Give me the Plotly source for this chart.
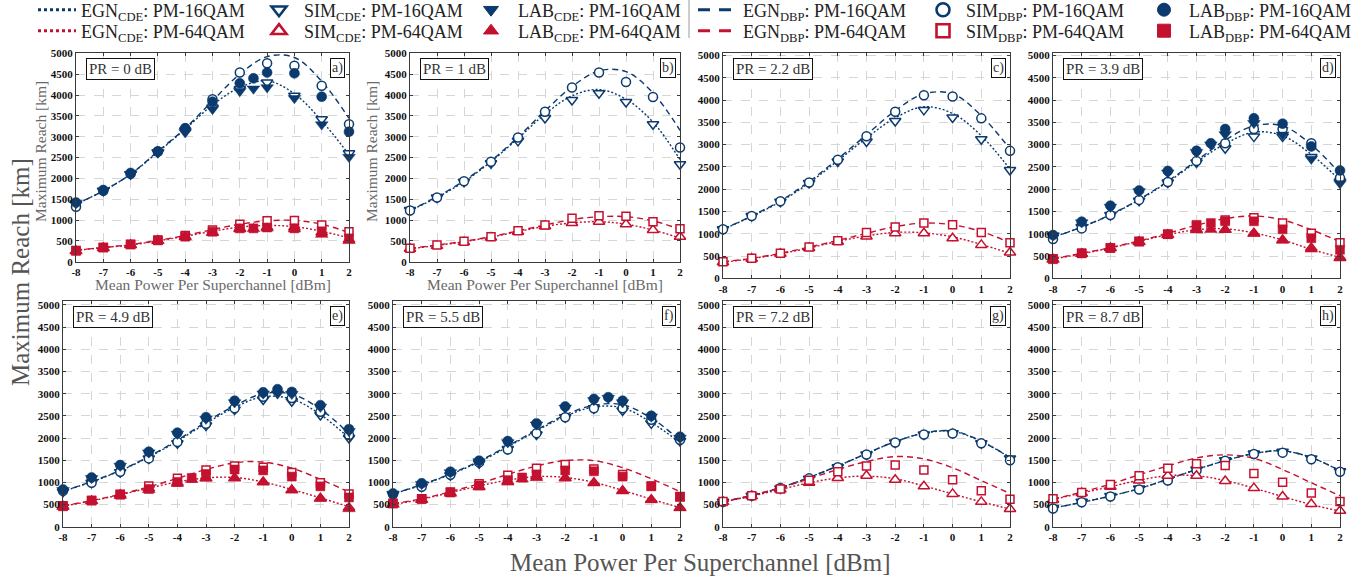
import plotly.graph_objects as go

# ---------------------------------------------------------------- data
POWER = [-8, -7, -6, -5, -4, -3, -2, -1, 0, 1, 2]          # launch power grid [dBm]
PANEL_TAGS = ["a)", "b)", "c)", "d)", "e)", "f)", "g)", "h)"]
PR_DB = ["0", "1", "2.2", "3.9", "4.9", "5.5", "7.2", "8.7"]   # power ratio per panel

# EGN model, CDE only (one row per panel, sampled on POWER)
EGN_CDE_16 = [
    [1380, 1700, 2100, 2630, 3180, 3760, 4180, 4340, 4030, 3380, 2570],
    [1230, 1540, 1920, 2400, 2960, 3540, 3980, 4130, 3900, 3350, 2450],
    [1100, 1390, 1720, 2140, 2640, 3150, 3600, 3850, 3700, 3200, 2450],
    [920, 1150, 1420, 1760, 2160, 2610, 3020, 3280, 3200, 2780, 2200],
    [800, 1010, 1260, 1570, 1930, 2330, 2690, 2930, 2880, 2530, 2000],
    [740, 940, 1180, 1460, 1800, 2160, 2490, 2700, 2680, 2350, 1900],
    [560, 700, 880, 1110, 1370, 1650, 1920, 2110, 2150, 1920, 1560],
    [420, 550, 690, 860, 1070, 1290, 1490, 1650, 1710, 1560, 1260],
]
EGN_CDE_64 = [
    [270, 340, 400, 500, 610, 730, 830, 870, 840, 730, 570],
    [310, 390, 480, 590, 720, 850, 930, 960, 900, 760, 570],
    [360, 440, 550, 680, 830, 950, 1030, 1020, 930, 760, 560],
    [430, 550, 680, 830, 980, 1090, 1110, 1020, 860, 650, 470],
    [460, 580, 720, 870, 1010, 1100, 1110, 1010, 840, 650, 450],
    [500, 620, 770, 920, 1050, 1130, 1110, 1000, 820, 620, 430],
    [560, 690, 840, 990, 1100, 1140, 1080, 920, 740, 560, 400],
    [610, 760, 900, 1050, 1150, 1150, 1040, 870, 680, 500, 350],
]
# EGN model with digital back-propagation
EGN_DBP_16 = [
    [1380, 1700, 2100, 2650, 3200, 3860, 4500, 4920, 4900, 4330, 3440],
    [1230, 1560, 1940, 2420, 2990, 3620, 4200, 4580, 4560, 4050, 3150],
    [1100, 1400, 1740, 2170, 2680, 3220, 3760, 4140, 4140, 3650, 2900],
    [920, 1150, 1430, 1770, 2180, 2640, 3100, 3420, 3420, 3000, 2350],
    [800, 1020, 1270, 1580, 1950, 2360, 2730, 3000, 2990, 2650, 2100],
    [740, 950, 1190, 1480, 1820, 2180, 2520, 2740, 2750, 2450, 1950],
    [560, 700, 880, 1110, 1370, 1650, 1920, 2110, 2160, 1930, 1560],
    [420, 550, 690, 860, 1070, 1290, 1490, 1650, 1710, 1560, 1260],
]
EGN_DBP_64 = [
    [280, 340, 410, 510, 630, 770, 900, 980, 990, 900, 700],
    [320, 400, 490, 600, 740, 880, 1010, 1080, 1080, 980, 780],
    [370, 450, 560, 700, 850, 1010, 1160, 1240, 1200, 1050, 800],
    [440, 560, 690, 840, 1010, 1190, 1340, 1400, 1310, 1090, 820],
    [470, 590, 730, 900, 1090, 1290, 1440, 1460, 1320, 1070, 780],
    [520, 630, 790, 970, 1180, 1370, 1490, 1490, 1330, 1080, 790],
    [570, 710, 880, 1080, 1290, 1470, 1580, 1530, 1330, 1040, 750],
    [620, 780, 960, 1170, 1370, 1550, 1620, 1540, 1290, 990, 700],
]

# split-step simulations, sampled on POWER
SIM_CDE_16 = [
    [1380, 1700, 2100, 2620, 3150, 3700, 4140, 4300, 3980, 3420, 2600],
    [1240, 1540, 1920, 2360, 2900, 3450, 3880, 4040, 3830, 3300, 2340],
    [1100, 1400, 1720, 2140, 2620, 3070, 3530, 3780, 3610, 3120, 2430],
    [950, 1150, 1420, 1740, 2150, 2600, 2920, 3180, 3180, 2720, 2170],
    [790, 990, 1230, 1540, 1880, 2280, 2640, 2870, 2830, 2520, 2000],
    [720, 900, 1160, 1430, 1750, 2080, 2470, 2670, 2620, 2330, 1930],
    [560, 700, 860, 1080, 1340, 1630, 1900, 2080, 2110, 1880, 1540],
    [420, 560, 690, 860, 1060, 1290, 1500, 1650, 1690, 1540, 1250],
]
SIM_DBP_16 = [
    [1320, 1700, 2110, 2650, 3200, 3900, 4540, 4760, 4700, 4220, 3300],
    [1230, 1540, 1930, 2400, 2980, 3600, 4180, 4540, 4310, 3950, 2740],
    [1100, 1400, 1730, 2150, 2660, 3190, 3740, 4110, 4080, 3590, 2860],
    [880, 1120, 1420, 1760, 2160, 2630, 3030, 3350, 3350, 3030, 2250],
    [810, 990, 1240, 1540, 1910, 2320, 2670, 2930, 2900, 2590, 2070],
    [730, 900, 1170, 1450, 1740, 2110, 2470, 2670, 2670, 2410, 1960],
    [560, 700, 870, 1090, 1340, 1630, 1900, 2080, 2100, 1880, 1500],
    [410, 550, 680, 840, 1040, 1270, 1490, 1640, 1670, 1520, 1240],
]
SIM_CDE_64 = [
    [260, 330, 400, 500, 600, 700, 800, 830, 820, 700, 530],
    [310, 380, 470, 580, 720, 850, 930, 960, 900, 760, 600],
    [360, 440, 550, 680, 820, 940, 1010, 1010, 900, 750, 580],
    [430, 550, 680, 820, 980, 1090, 1090, 1010, 860, 680, 470],
    [460, 580, 720, 860, 990, 1090, 1100, 1010, 830, 640, 430],
    [510, 610, 760, 900, 1020, 1130, 1100, 990, 810, 610, 430],
    [560, 690, 840, 990, 1100, 1150, 1060, 910, 740, 560, 400],
    [610, 760, 900, 1040, 1150, 1150, 1030, 870, 680, 510, 360],
]
SIM_DBP_64 = [
    [270, 340, 420, 520, 630, 760, 900, 980, 990, 880, 720],
    [320, 400, 490, 600, 740, 880, 1040, 1100, 1090, 960, 790],
    [370, 450, 560, 700, 840, 1030, 1150, 1240, 1200, 1030, 800],
    [440, 560, 680, 830, 990, 1180, 1310, 1360, 1240, 1010, 800],
    [470, 590, 730, 920, 1090, 1280, 1370, 1340, 1220, 990, 740],
    [530, 630, 780, 970, 1160, 1320, 1400, 1300, 1180, 920, 680],
    [570, 700, 850, 1050, 1240, 1370, 1390, 1280, 1060, 810, 620],
    [630, 770, 950, 1150, 1320, 1420, 1380, 1200, 1000, 760, 570],
]

# laboratory measurements (only panels a, d, e, f)
LAB_PANELS = [0, 3, 4, 5]
LAB_POWER_16 = [
    [-8, -7, -6, -5, -4, -3, -2, -1.5, -1, 0, 1, 2],
    [-8, -7, -6, -5, -4, -3, -2.5, -2, -1, 0, 1, 2],
    [-8, -7, -6, -5, -4, -3, -2, -1, -0.5, 0, 1, 2],
    [-8, -7, -6, -5, -4, -3, -2, -1, -0.5, 0, 1, 2],
]
LAB_POWER_64 = [
    [-8, -7, -6, -5, -4, -3, -2, -1.5, -1, 0, 1, 2],
    [-8, -7, -6, -5, -4, -3, -2.5, -2, -1, 0, 1, 2],
    [-8, -7, -6, -5, -4, -3.5, -3, -2, -1, 0, 1, 2],
    [-8, -7, -6, -5, -4, -3.5, -3, -2, -1, 0, 1, 2],
]
LAB_CDE_16 = [
    [1400, 1700, 2100, 2620, 3100, 3660, 4090, 4150, 4180, 3920, 3290, 2510],
    [960, 1250, 1600, 1950, 2370, 2830, 3000, 3230, 3480, 3220, 2680, 2130],
    [820, 1090, 1370, 1670, 2090, 2430, 2800, 3000, 3000, 2990, 2700, 2150],
    [740, 960, 1220, 1470, 1900, 2300, 2680, 2850, 2900, 2800, 2480, 2000],
]
LAB_DBP_16 = [
    [1420, 1720, 2130, 2640, 3200, 3840, 4280, 4400, 4540, 4520, 3960, 3120],
    [970, 1270, 1630, 1970, 2410, 2860, 3030, 3350, 3590, 3470, 2960, 2420],
    [840, 1110, 1390, 1690, 2120, 2470, 2840, 3030, 3100, 3040, 2740, 2200],
    [750, 980, 1240, 1490, 1930, 2330, 2710, 2880, 2920, 2840, 2500, 2030],
]
LAB_CDE_64 = [
    [250, 330, 400, 500, 590, 690, 780, 790, 800, 780, 650, 500],
    [420, 550, 680, 810, 970, 1080, 1090, 1090, 1000, 850, 650, 450],
    [450, 580, 700, 830, 970, 1060, 1090, 1090, 1000, 820, 630, 400],
    [500, 610, 750, 890, 1000, 1070, 1100, 1090, 980, 800, 600, 420],
]
LAB_DBP_64 = [
    [260, 340, 410, 510, 600, 720, 800, 800, 820, 800, 730, 560],
    [430, 560, 680, 820, 990, 1200, 1240, 1280, 1280, 1100, 900, 640],
    [460, 590, 720, 850, 1010, 1100, 1190, 1290, 1270, 1130, 910, 660],
    [520, 620, 770, 930, 1050, 1110, 1180, 1270, 1250, 1130, 910, 670],
]

# ---------------------------------------------------------------- style
W, H = 1367, 580
BLUE = "#0b3a6e"
RED = "#c3112f"
SERIF = "Liberation Serif"
GREY_TXT = "#555555"

# plot frames in pixels: left, right, top, bottom
FRAMES = [
    (76, 349, 52.7, 261.7), (410, 680, 52.7, 261.7),
    (723, 1010, 53.3, 278.3), (1053, 1340, 53.3, 278.3),
    (63, 349, 301, 526.7), (393, 680, 301, 526.7),
    (723, 1010, 301, 526.7), (1053, 1340, 301, 526.7),
]
Y_TOP = [5015, 5015, 5050, 5050, 5090, 5090, 5090, 5090]

DOT = "2px,2px"
DASH = "6px,4px"
MS = 9


def px_x(v):
    return v / W


def px_y(v):
    return 1 - v / H


fig = go.Figure()


def add_panel_traces(i):
    sfx = "" if i == 0 else str(i + 1)
    xa, ya = "x" + sfx, "y" + sfx
    for color, cde, dbp, sim_c, sim_d, sym_c, sym_d in (
        (BLUE, EGN_CDE_16, EGN_DBP_16, SIM_CDE_16, SIM_DBP_16, "triangle-down", "circle"),
        (RED, EGN_CDE_64, EGN_DBP_64, SIM_CDE_64, SIM_DBP_64, "triangle-up", "square"),
    ):
        fig.add_trace(go.Scatter(
            x=POWER, y=cde[i], xaxis=xa, yaxis=ya, mode="lines", showlegend=False,
            line=dict(color=color, width=1.4, dash=DOT, shape="spline"), hoverinfo="skip"))
        fig.add_trace(go.Scatter(
            x=POWER, y=dbp[i], xaxis=xa, yaxis=ya, mode="lines", showlegend=False,
            line=dict(color=color, width=1.4, dash=DASH, shape="spline"), hoverinfo="skip"))
        fig.add_trace(go.Scatter(
            x=POWER, y=sim_c[i], xaxis=xa, yaxis=ya, mode="markers", showlegend=False,
            cliponaxis=False,
            marker=dict(symbol=sym_c, size=MS + 1, color="white", line=dict(color=color, width=1.5))))
        fig.add_trace(go.Scatter(
            x=POWER, y=sim_d[i], xaxis=xa, yaxis=ya, mode="markers", showlegend=False,
            cliponaxis=False,
            marker=dict(symbol=sym_d, size=MS if sym_d == "circle" else MS - 1, color="white",
                        line=dict(color=color, width=1.5))))
    if i in LAB_PANELS:
        k = LAB_PANELS.index(i)
        for color, pw, cde, dbp, sym_c, sym_d in (
            (BLUE, LAB_POWER_16, LAB_CDE_16, LAB_DBP_16, "triangle-down", "circle"),
            (RED, LAB_POWER_64, LAB_CDE_64, LAB_DBP_64, "triangle-up", "square"),
        ):
            fig.add_trace(go.Scatter(
                x=pw[k], y=cde[k], xaxis=xa, yaxis=ya, mode="markers", showlegend=False,
                cliponaxis=False,
                marker=dict(symbol=sym_c, size=MS + 2, color=color, line=dict(color=color, width=0.5))))
            fig.add_trace(go.Scatter(
                x=pw[k], y=dbp[k], xaxis=xa, yaxis=ya, mode="markers", showlegend=False,
                cliponaxis=False,
                marker=dict(symbol=sym_d, size=MS + 1 if sym_d == "circle" else MS, color=color,
                            line=dict(color=color, width=0.5))))


for i in range(8):
    add_panel_traces(i)

# ---------------------------------------------------------------- axes
axis_common = dict(
    showline=True, mirror="ticks", linecolor="#3a3a3a", linewidth=1,
    ticks="inside", ticklen=3, tickcolor="#3a3a3a",
    showgrid=True, gridcolor="#d6d6d6", griddash="dash", gridwidth=1,
    zeroline=False,
    tickfont=dict(family=SERIF, size=11, color="#111111", weight="bold"),
)
for i, (l, r, t, b) in enumerate(FRAMES):
    sfx = "" if i == 0 else str(i + 1)
    fig.layout["xaxis" + sfx] = dict(
        axis_common, domain=[px_x(l), px_x(r)], range=[-8, 2],
        tickmode="array", tickvals=POWER, ticktext=[str(p) for p in POWER],
        anchor="y" + sfx)
    fig.layout["yaxis" + sfx] = dict(
        axis_common, domain=[px_y(b), px_y(t)], range=[0, Y_TOP[i]],
        tickmode="array", tickvals=list(range(0, 5001, 500)),
        anchor="x" + sfx)

annotations = []
for i in range(8):
    sfx = "" if i == 0 else str(i + 1)
    annotations.append(dict(
        xref="x" + sfx + " domain", yref="y" + sfx + " domain", x=0, y=1,
        xanchor="left", yanchor="top", xshift=10, yshift=-5,
        text="PR = " + PR_DB[i] + " dB", showarrow=False,
        font=dict(family=SERIF, size=15, color="#333333"),
        bordercolor="#111111", borderwidth=1, borderpad=2, bgcolor="white"))
    annotations.append(dict(
        xref="x" + sfx + " domain", yref="y" + sfx + " domain", x=1, y=1,
        xanchor="right", yanchor="top", xshift=-4, yshift=-5,
        text=PANEL_TAGS[i], showarrow=False,
        font=dict(family=SERIF, size=14, color="#333333"),
        bordercolor="#111111", borderwidth=1, borderpad=1, bgcolor="white"))

# small per-panel titles on the first two panels
for cx, cy_title in ((40, 212.5), (371, 545)):
    annotations.append(dict(
        xref="paper", yref="paper", x=px_x(cx), y=px_y(152), textangle=-90,
        xanchor="center", yanchor="middle",
        text="Maximum Reach [km]", showarrow=False,
        font=dict(family=SERIF, size=15.5, color="#6a6a6a")))
    annotations.append(dict(
        xref="paper", yref="paper", x=px_x(cy_title), y=px_y(284),
        xanchor="center", yanchor="middle",
        text="Mean Power Per Superchannel [dBm]", showarrow=False,
        font=dict(family=SERIF, size=15.5, color="#6a6a6a")))

# figure-wide titles
annotations.append(dict(
    xref="paper", yref="paper", x=px_x(700), y=px_y(562),
    xanchor="center", yanchor="middle",
    text="Mean Power Per Superchannel [dBm]", showarrow=False,
    font=dict(family=SERIF, size=25, color=GREY_TXT)))
annotations.append(dict(
    xref="paper", yref="paper", x=px_x(20), y=px_y(272), textangle=-90,
    xanchor="center", yanchor="middle",
    text="Maximum Reach [km]", showarrow=False,
    font=dict(family=SERIF, size=25, color=GREY_TXT)))

# ---------------------------------------------------------------- legend
LEG_ENTRIES = [
    # (label, mode, color, symbol, dash, filled, left_px, itemwidth, row_y)
    ("EGN<sub>CDE</sub>: PM-16QAM", "lines", BLUE, None, "3px,3px", False, 33, 38, 10),
    ("EGN<sub>CDE</sub>: PM-64QAM", "lines", RED, None, "3px,3px", False, 33, 38, 31),
    ("SIM<sub>CDE</sub>: PM-16QAM", "markers", BLUE, "triangle-down", None, False, 254, 40, 10),
    ("SIM<sub>CDE</sub>: PM-64QAM", "markers", RED, "triangle-up", None, False, 254, 40, 31),
    ("LAB<sub>CDE</sub>: PM-16QAM", "markers", BLUE, "triangle-down", None, True, 464, 44, 10),
    ("LAB<sub>CDE</sub>: PM-64QAM", "markers", RED, "triangle-up", None, True, 464, 44, 31),
    ("EGN<sub>DBP</sub>: PM-16QAM", "lines", BLUE, None, "12px,9px", False, 693, 40, 10),
    ("EGN<sub>DBP</sub>: PM-64QAM", "lines", RED, None, "12px,9px", False, 693, 40, 31),
    ("SIM<sub>DBP</sub>: PM-16QAM", "markers", BLUE, "circle", None, False, 920, 36, 10),
    ("SIM<sub>DBP</sub>: PM-64QAM", "markers", RED, "square", None, False, 920, 36, 31),
    ("LAB<sub>DBP</sub>: PM-16QAM", "markers", BLUE, "circle", None, True, 1139, 40, 10),
    ("LAB<sub>DBP</sub>: PM-64QAM", "markers", RED, "square", None, True, 1139, 40, 31),
]
legend_layout = {}
for n, (label, mode, color, sym, dash, filled, left, iw, ry) in enumerate(LEG_ENTRIES):
    key = "legend" if n == 0 else "legend" + str(n + 1)
    if mode == "lines":
        kw = dict(line=dict(color=color, width=3, dash=dash))
    else:
        kw = dict(marker=dict(symbol=sym, size=13,
                              color=color if filled else "white",
                              line=dict(color=color, width=1 if filled else 2.6)))
    fig.add_trace(go.Scatter(x=[None], y=[None], mode=mode, name=label,
                             legend=key, showlegend=True, **kw))
    legend_layout[key] = dict(
        xref="container", yref="container", x=left / W, y=1 - ry / H,
        xanchor="left", yanchor="middle", itemwidth=iw,
        bgcolor="rgba(0,0,0,0)", borderwidth=0,
        font=dict(family=SERIF, size=18, color="#222222"))

fig.update_layout(**legend_layout)

fig.update_layout(
    width=W, height=H,
    margin=dict(l=0, r=0, t=0, b=0, autoexpand=False),
    paper_bgcolor="white", plot_bgcolor="white",
    annotations=annotations,
    shapes=[dict(type="line", xref="paper", yref="paper",
                 x0=px_x(689), x1=px_x(689), y0=px_y(0), y1=px_y(38),
                 line=dict(color="#9a9a9a", width=1))],
)

fig.write_html("out.html")
